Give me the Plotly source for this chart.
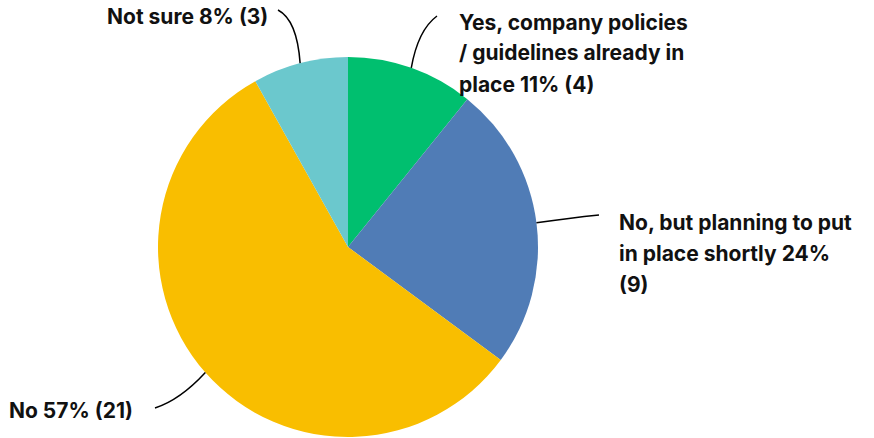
import math
import plotly.graph_objects as go

categories = ["Yes, company policies / guidelines already in place",
              "No, but planning to put in place shortly",
              "No",
              "Not sure"]
counts = [4, 9, 21, 3]
colors = ["#00BF6F", "#507CB6", "#F9BE00", "#6BC8CD"]
label_lines = [
    ["Yes, company policies", "/ guidelines already in", "place 11% (4)"],
    ["No, but planning to put", "in place shortly 24%", "(9)"],
    ["No 57% (21)"],
    ["Not sure 8% (3)"],
]

W, H = 874, 438
cx, cy, R = 348, 247, 190

def px(x):
    return x / W

def py(y):
    return 1 - y / H

fig = go.Figure()
fig.add_trace(go.Pie(
    labels=categories, values=counts, sort=False, direction="clockwise",
    rotation=0, textinfo="none", hoverinfo="skip",
    marker=dict(colors=colors, line=dict(width=0)),
    domain=dict(x=[px(cx - R), px(cx + R)], y=[py(cy + R), py(cy - R)]),
    showlegend=False,
))

# label layout (pixel positions): x, anchor, first line y
label_pos = [
    (457, "left", 22),
    (617, "left", 222),
    (135, "right", 410),
    (270, "right", 17),
]
line_gap = 31
# leader line end and control points (pixels)
leader = [
    ((437, 16), (418, 30)),
    ((599, 215), (570, 218)),
    ((155, 408), (180, 400)),
    ((278, 10), (297, 20)),
]

annotations = []
shapes = []
total = sum(counts)
cum = 0
for i, v in enumerate(counts):
    mid = (cum + v / 2) / total * 2 * math.pi
    cum += v
    sx = cx + R * math.sin(mid)
    sy = cy - R * math.cos(mid)
    (ex, ey), (qx, qy) = leader[i]
    path = f"M {px(sx)},{py(sy)} Q {px(qx)},{py(qy)} {px(ex)},{py(ey)}"
    shapes.append(dict(type="path", xref="paper", yref="paper", path=path,
                       line=dict(color="black", width=1.5)))
    lx, anchor, ly = label_pos[i]
    for j, t in enumerate(label_lines[i]):
        annotations.append(dict(
            text=f"<b>{t}</b>", x=px(lx), y=py(ly + j * line_gap),
            xref="paper", yref="paper", xanchor=anchor, yanchor="middle",
            showarrow=False, font=dict(family="Inter", size=21, color="#111111"),
        ))

fig.update_layout(
    width=W, height=H, margin=dict(l=0, r=0, t=0, b=0),
    paper_bgcolor="white", plot_bgcolor="white",
    annotations=annotations, shapes=shapes, hovermode=False,
)
fig.write_html("out.html", config={"displayModeBar": False},
               post_script="document.body.style.margin='0';")
